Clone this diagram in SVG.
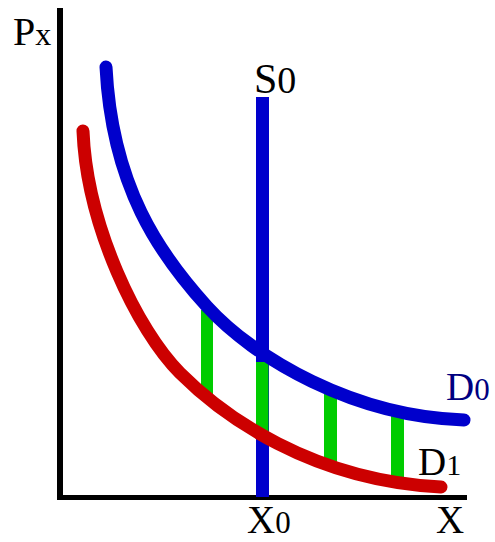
<svg xmlns="http://www.w3.org/2000/svg" width="495" height="542" viewBox="0 0 495 542">
<style>
.lbl{font-family:"Liberation Serif","Times New Roman",serif;fill:#000}
.curve{fill:none;stroke-width:13;stroke-linecap:round;stroke-linejoin:round}
.gap{fill:#00CC00}
</style>
<rect width="495" height="542" fill="#fff"/>
<g id="axes">
<line x1="60" y1="8" x2="60" y2="500" stroke="#000" stroke-width="6"/>
<line x1="57" y1="497.5" x2="467" y2="497.5" stroke="#000" stroke-width="5"/>
</g>
<g id="supply">
<line x1="262.5" y1="97" x2="262.5" y2="497" stroke="#0000CC" stroke-width="13"/>
</g>
<g id="gaps">
<rect class="gap" x="201" y="310" width="12" height="90"/>
<rect class="gap" x="256" y="362" width="12.5" height="76"/>
<rect class="gap" x="324" y="394" width="13" height="74"/>
<rect class="gap" x="391" y="415" width="13" height="68"/>
</g>
<g id="D0">
<path class="curve" stroke="#0000CC" d="M106,67 C112,187 159.9,254.7 207,306.5 C254.1,358.3 354,416.7 464,420"/>
</g>
<g id="D1">
<path class="curve" stroke="#CC0000" d="M83,131 C86.8,226 137.6,330.6 180,373 C222.4,415.4 311,480.5 441,487"/>
</g>
<g id="labels">
<text class="lbl" x="13" y="45" font-size="40">P<tspan font-size="32">x</tspan></text>
<text class="lbl" x="254" y="93" font-size="42">S<tspan font-size="38">0</tspan></text>
<text class="lbl" x="247" y="533" font-size="39">X<tspan font-size="31">0</tspan></text>
<text class="lbl" x="436" y="533" font-size="39">X</text>
<text class="lbl" x="446" y="400" font-size="39" style="fill:#000080">D<tspan font-size="31">0</tspan></text>
<text class="lbl" x="418" y="475" font-size="39">D<tspan font-size="30">1</tspan></text>
</g>
</svg>
